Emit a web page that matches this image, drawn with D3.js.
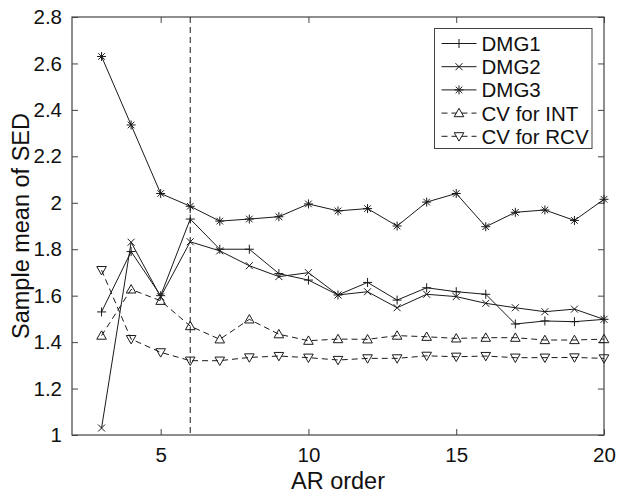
<!DOCTYPE html>
<html><head><meta charset="utf-8">
<script src="https://cdn.jsdelivr.net/npm/d3@7"></script>
<style>body{margin:0;background:#fff}svg{display:block}text{font-family:"Liberation Sans",Arial,sans-serif;fill:#111}</style>
</head><body>
<svg id="c" width="617" height="496"></svg>
<script>
const orders = [3,4,5,6,7,8,9,10,11,12,13,14,15,16,17,18,19,20];
const dmg1 = [1.53,1.79,1.60,1.93,1.80,1.80,1.695,1.667,1.603,1.657,1.581,1.634,1.617,1.606,1.478,1.491,1.488,1.498];
const dmg2 = [1.03,1.83,1.595,1.832,1.793,1.729,1.682,1.699,1.603,1.617,1.548,1.606,1.596,1.567,1.548,1.531,1.542,1.498];
const dmg3 = [2.63,2.335,2.04,1.985,1.921,1.93,1.94,1.995,1.965,1.975,1.90,2.003,2.04,1.897,1.959,1.969,1.924,2.015];
const cvInt = [1.428,1.627,1.578,1.469,1.412,1.498,1.434,1.406,1.413,1.412,1.428,1.423,1.416,1.419,1.419,1.409,1.409,1.413];
const cvRcv = [1.71,1.413,1.356,1.32,1.32,1.334,1.34,1.333,1.323,1.33,1.33,1.341,1.337,1.34,1.333,1.333,1.334,1.33];
const seriesNames = ["DMG1","DMG2","DMG3","CV for INT","CV for RCV"];
const xTicks = [5,10,15,20];
const yTicks = [1,1.2,1.4,1.6,1.8,2,2.2,2.4,2.6,2.8];
const selectedOrder = 6;
const xLabel = "AR order", yLabel = "Sample mean of SED";

const svg = d3.select("#c");
const L=72, R=604, T=17, B=435;
const x = d3.scaleLinear().domain([2,20]).range([L,R]);
const y = d3.scaleLinear().domain([1,2.8]).range([B,T]);
const ink = "#1a1a1a";

const markers = {
  plus: "M-4.5,0H4.5M0,-4.5V4.5",
  cross: "M-3.5,-3.5L3.5,3.5M-3.5,3.5L3.5,-3.5",
  star: "M-4.5,0H4.5M0,-4.5V4.5M-3.3,-3.3L3.3,3.3M-3.3,3.3L3.3,-3.3",
  up: "M0,-4.8L4.8,3.6L-4.8,3.6Z",
  down: "M0,4.8L4.8,-3.6L-4.8,-3.6Z"
};
const series = [
  {name:seriesNames[0], v:dmg1, m:"plus", dash:null},
  {name:seriesNames[1], v:dmg2, m:"cross", dash:null},
  {name:seriesNames[2], v:dmg3, m:"star", dash:null},
  {name:seriesNames[3], v:cvInt, m:"up", dash:"6,4"},
  {name:seriesNames[4], v:cvRcv, m:"down", dash:"6,4"}
];

// frame
svg.append("rect").attr("x",L).attr("y",T).attr("width",R-L).attr("height",B-T)
  .attr("fill","none").attr("stroke","#444").attr("stroke-width",1.2);

// axes with inward ticks
const ax = g => g.selectAll(".domain").remove();
const styleText = g => g.selectAll("text").attr("font-size",20.5).attr("fill","#111").attr("font-family","Liberation Sans, Arial");
svg.append("g").attr("transform",`translate(0,${B})`)
  .call(d3.axisBottom(x).tickValues(xTicks).tickSize(-6).tickPadding(12).tickFormat(d3.format("d")))
  .call(ax).call(g=>{g.selectAll("line").attr("stroke","#444");styleText(g);});
svg.append("g").attr("transform",`translate(0,${T})`)
  .call(d3.axisTop(x).tickValues(xTicks).tickSize(-6).tickFormat(""))
  .call(ax).call(g=>g.selectAll("line").attr("stroke","#444"));
svg.append("g").attr("transform",`translate(${L},0)`)
  .call(d3.axisLeft(y).tickValues(yTicks).tickSize(-6).tickPadding(10).tickFormat(d=>d3.format("")(+d.toFixed(1))))
  .call(ax).call(g=>{g.selectAll("line").attr("stroke","#444");styleText(g);});
svg.append("g").attr("transform",`translate(${R},0)`)
  .call(d3.axisRight(y).tickValues(yTicks).tickSize(-6).tickFormat(""))
  .call(ax).call(g=>g.selectAll("line").attr("stroke","#444"));

// vertical dashed line
svg.append("line").attr("x1",x(selectedOrder)).attr("x2",x(selectedOrder)).attr("y1",T).attr("y2",B)
  .attr("stroke",ink).attr("stroke-width",1).attr("stroke-dasharray","6,4");

// series
const line = d3.line().x((d,i)=>x(orders[i])).y(d=>y(d));
series.forEach(s=>{
  svg.append("path").datum(s.v).attr("d",line).attr("fill","none").attr("stroke",ink)
    .attr("stroke-width",1).attr("stroke-dasharray",s.dash);
  svg.append("g").selectAll("path").data(s.v).join("path")
    .attr("transform",(d,i)=>`translate(${x(orders[i])},${y(d)})`)
    .attr("d",markers[s.m]).attr("fill","none").attr("stroke",ink).attr("stroke-width",1);
});

// labels
svg.append("text").attr("x",(L+R)/2).attr("y",489).attr("text-anchor","middle")
  .attr("font-size",23.5).text(xLabel);
svg.append("text").attr("transform",`translate(29,${(T+B)/2}) rotate(-90)`).attr("text-anchor","middle")
  .attr("font-size",23.5).text(yLabel);

// legend
const lg = svg.append("g");
lg.append("rect").attr("x",434.5).attr("y",28.5).attr("width",157.5).attr("height",120)
  .attr("fill","#fff").attr("stroke","#444").attr("stroke-width",1);
series.forEach((s,i)=>{
  const cy = 43.5 + i*23.2;
  lg.append("line").attr("x1",441.5).attr("x2",476.5).attr("y1",cy).attr("y2",cy)
    .attr("stroke",ink).attr("stroke-width",1).attr("stroke-dasharray",s.dash);
  lg.append("path").attr("transform",`translate(459,${cy})`).attr("d",markers[s.m])
    .attr("fill","#fff").attr("stroke",ink).attr("stroke-width",1);
  lg.append("text").attr("x",481.5).attr("y",cy+7.5).attr("font-size",20.5).text(s.name);
});
</script>
</body></html>
